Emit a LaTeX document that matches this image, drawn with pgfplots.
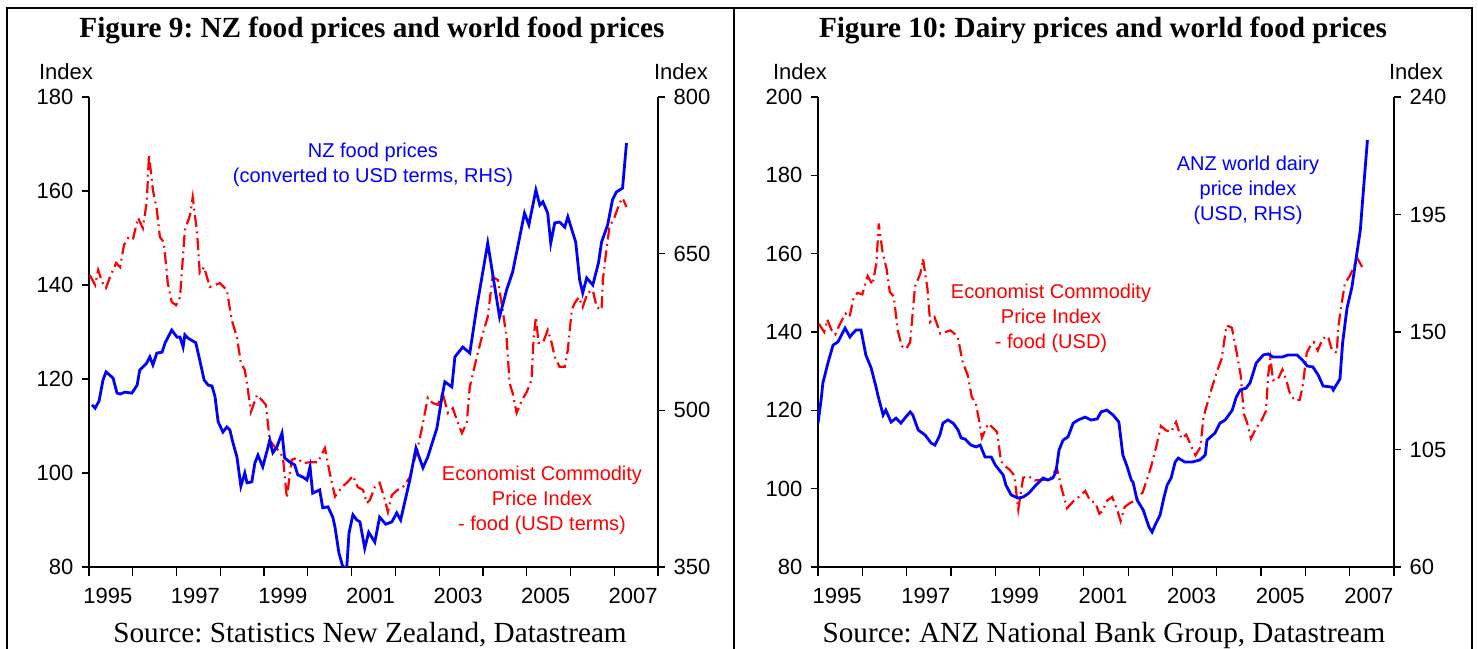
\documentclass[border=0pt]{standalone}
\usepackage{fontspec}
\setmainfont{Liberation Serif}
\newfontfamily\arial{Liberation Sans}
\usepackage{pgfplots}
\usepackage{pgfplotstable}
\pgfplotsset{compat=1.18}
\definecolor{nzblue}{RGB}{0,0,255}
\definecolor{ecred}{RGB}{255,0,0}
\frenchspacing

% Economist commodity price index - food (USD), LHS in both charts
\pgfplotstableread{
yr v
1995.02 142.1
1995.14 140.0
1995.21 143.2
1995.30 140.6
1995.39 139.4
1995.48 141.7
1995.62 144.7
1995.71 143.8
1995.80 148.5
1995.89 150.0
1996.00 149.6
1996.12 154.3
1996.23 152.1
1996.32 157.7
1996.37 167.7
1996.46 160.2
1996.55 156.0
1996.62 150.2
1996.71 149.1
1996.80 140.4
1996.89 136.4
1996.99 135.7
1997.08 137.4
1997.19 151.7
1997.31 154.9
1997.37 158.7
1997.47 151.1
1997.53 142.6
1997.63 143.8
1997.76 139.6
1997.88 140.0
1997.99 140.4
1998.15 138.9
1998.26 132.6
1998.38 128.9
1998.47 123.4
1998.56 121.9
1998.63 117.7
1998.70 113.0
1998.84 116.6
1998.95 115.5
1999.04 114.5
1999.13 107.0
1999.25 105.5
1999.32 104.9
1999.43 103.4
1999.52 94.7
1999.63 102.8
1999.75 103.2
1999.89 102.1
2000.05 102.3
2000.23 102.3
2000.39 105.3
2000.50 100.0
2000.62 95.0
2000.78 97.0
2000.91 98.1
2001.03 99.4
2001.14 97.0
2001.26 96.4
2001.35 93.6
2001.42 94.3
2001.53 97.0
2001.64 97.9
2001.76 94.3
2001.83 91.7
2001.92 95.3
2002.05 96.4
2002.17 97.0
2002.33 99.1
2002.51 105.3
2002.63 110.6
2002.74 116.0
2002.85 114.9
2002.97 114.5
2003.08 117.0
2003.20 112.8
2003.31 113.8
2003.42 110.9
2003.52 108.5
2003.63 110.6
2003.70 118.3
2003.86 124.7
2004.00 129.8
2004.11 133.2
2004.22 141.7
2004.34 141.1
2004.45 134.7
2004.54 128.9
2004.61 119.1
2004.68 117.0
2004.77 112.8
2004.89 115.5
2005.00 117.2
2005.11 119.8
2005.16 128.9
2005.21 133.2
2005.27 127.7
2005.37 127.7
2005.48 130.4
2005.57 127.7
2005.64 124.7
2005.75 122.6
2005.87 122.6
2005.94 126.2
2006.03 134.7
2006.10 136.2
2006.19 137.4
2006.28 135.3
2006.39 138.3
2006.51 138.9
2006.60 135.3
2006.71 134.7
2006.74 141.1
2006.83 148.1
2006.89 152.3
2007.01 154.5
2007.12 157.4
2007.19 158.5
2007.28 156.6
}\econ

% NZ food prices in USD terms, RHS of figure 9
\pgfplotstableread{
yr v
1995.07 505.3
1995.14 502.1
1995.23 508.9
1995.32 529.1
1995.39 536.8
1995.55 530.9
1995.64 516.5
1995.71 515.6
1995.82 517.4
1995.98 516.5
1996.10 524.2
1996.16 538.6
1996.32 545.3
1996.39 551.2
1996.46 543.5
1996.55 554.8
1996.67 555.7
1996.74 564.7
1996.89 576.8
1997.01 570.1
1997.08 570.1
1997.15 560.6
1997.19 572.3
1997.26 569.2
1997.44 564.7
1997.53 548.0
1997.63 529.1
1997.72 524.2
1997.81 523.3
1997.88 512.9
1997.95 489.1
1998.06 479.2
1998.15 484.1
1998.22 481.0
1998.29 468.8
1998.38 455.3
1998.47 427.4
1998.56 440.0
1998.61 430.6
1998.72 431.5
1998.79 449.5
1998.86 457.1
1998.97 445.9
1999.09 464.8
1999.13 471.5
1999.20 459.4
1999.29 464.8
1999.41 478.3
1999.47 454.4
1999.59 450.4
1999.70 447.7
1999.77 438.2
1999.89 436.0
1999.98 433.3
2000.05 445.9
2000.11 420.7
2000.27 423.8
2000.34 406.7
2000.46 407.6
2000.57 397.7
2000.62 388.3
2000.71 363.5
2000.80 350.0
2000.89 350.0
2000.94 382.4
2001.03 400.0
2001.12 395.0
2001.19 393.2
2001.30 368.0
2001.39 383.3
2001.53 373.9
2001.64 397.7
2001.78 391.0
2001.92 393.2
2002.03 401.8
2002.12 395.0
2002.33 433.3
2002.47 463.9
2002.63 445.0
2002.74 455.3
2002.95 483.2
2003.06 512.0
2003.13 527.3
2003.29 522.4
2003.36 551.2
2003.54 560.6
2003.70 554.8
2003.86 598.9
2004.11 660.1
2004.38 589.4
2004.54 615.1
2004.68 632.6
2004.95 688.9
2005.05 677.6
2005.21 710.9
2005.30 696.5
2005.37 699.7
2005.48 688.9
2005.55 660.1
2005.64 679.4
2005.75 680.3
2005.87 675.4
2005.94 685.3
2006.12 661.0
2006.21 625.0
2006.28 612.4
2006.37 626.8
2006.51 620.0
2006.64 641.2
2006.71 661.0
2006.85 677.6
2006.96 701.5
2007.05 709.1
2007.19 712.7
2007.28 755.9
}\nzfood

% ANZ world dairy price index (USD), RHS of figure 10
\pgfplotstableread{
yr v
1995.00 115.1
1995.07 124.0
1995.11 130.5
1995.23 138.5
1995.34 145.0
1995.45 146.2
1995.61 151.5
1995.72 148.1
1995.79 149.6
1995.86 150.8
1995.97 150.8
1996.08 141.2
1996.20 136.2
1996.31 128.9
1996.35 125.9
1996.47 118.2
1996.53 120.1
1996.65 115.5
1996.76 117.0
1996.87 115.1
1996.96 117.0
1997.08 119.4
1997.14 118.2
1997.26 112.5
1997.42 110.5
1997.55 107.5
1997.64 106.7
1997.75 110.5
1997.82 115.1
1997.93 116.3
1998.05 115.1
1998.16 112.5
1998.23 109.4
1998.32 109.0
1998.45 106.7
1998.57 106.0
1998.66 106.7
1998.77 102.1
1998.91 102.1
1999.00 99.1
1999.18 95.2
1999.24 91.4
1999.36 87.6
1999.51 86.4
1999.63 86.8
1999.76 88.3
1999.92 91.4
2000.08 94.1
2000.19 93.3
2000.30 94.1
2000.37 96.4
2000.44 104.8
2000.53 108.6
2000.64 109.8
2000.76 115.1
2000.87 116.3
2001.03 117.4
2001.16 116.3
2001.30 116.7
2001.39 119.4
2001.52 120.1
2001.66 118.2
2001.79 115.5
2001.88 102.9
2001.98 98.3
2002.07 93.3
2002.11 92.5
2002.20 85.7
2002.34 81.8
2002.47 75.3
2002.54 73.4
2002.61 76.1
2002.72 79.9
2002.81 86.8
2002.88 91.4
2002.97 94.1
2003.06 100.2
2003.13 101.7
2003.28 100.2
2003.44 100.2
2003.62 101.0
2003.74 102.9
2003.78 108.6
2003.96 111.3
2004.07 115.1
2004.19 116.3
2004.35 120.1
2004.44 125.1
2004.53 127.8
2004.66 128.5
2004.75 130.5
2004.89 138.1
2005.05 141.2
2005.16 141.6
2005.27 140.4
2005.47 140.4
2005.61 141.2
2005.81 141.2
2005.93 139.3
2006.04 137.0
2006.17 136.6
2006.29 133.5
2006.40 129.3
2006.60 128.9
2006.63 127.8
2006.78 132.0
2006.84 145.8
2006.94 159.2
2007.05 167.2
2007.14 177.6
2007.24 189.1
2007.31 204.4
2007.40 223.5
}\dairy

\pgfplotsset{
  panel/.style={
    scale only axis, anchor=south west, height=235pt,
    xmin=1995, xmax=2008,
    tick align=outside,
    axis line style={black, line width=0.6pt},
    tick style={black, line width=0.6pt},
    ticklabel style={font=\arial\fontsize{11}{13}\selectfont},
    /pgf/number format/assume math mode=true,
    /pgf/number format/1000 sep={},
    ytick style={/pgfplots/major tick length=3.4pt},
  },
  lhs/.style={panel,
    axis y line*=left, axis x line*=bottom,
    xtick={1995.5,1997.5,1999.5,2001.5,2003.5,2005.5,2007.5},
    xticklabels={1995,1997,1999,2001,2003,2005,2007},
    xtick style={/pgfplots/major tick length=0pt},
    minor xtick={1995,1996,...,2008},
    minor tick length=4.6pt,
    minor x tick style={black, line width=0.6pt},
    xticklabel style={yshift=-3pt, xshift=-1.5pt},
  },
  rhs/.style={panel,
    axis y line*=right, axis x line=none,
  },
  redline/.style={ecred, line width=1.1pt, dash pattern=on 6pt off 2.3pt on 0.9pt off 2.3pt},
  blueline/.style={nzblue, line width=1.4pt},
}

\begin{document}
\begin{tikzpicture}
\tikzset{lab/.style={font=\arial\fontsize{11}{13}\selectfont}}

% ---- Figure 9 ----
\begin{axis}[lhs, at={(44.5pt,40.5pt)}, width=284.5pt,
  ymin=80, ymax=180, ytick={80,100,...,180}]
\addplot[redline] table[x=yr, y=v] {\econ};
\end{axis}
\begin{axis}[rhs, at={(44.5pt,40.5pt)}, width=284.5pt,
  ymin=350, ymax=800, ytick={350,500,650,800}]
\addplot[blueline] table[x=yr, y=v] {\nzfood};
\end{axis}

% ---- Figure 10 ----
\begin{axis}[lhs, at={(409pt,40.5pt)}, width=288pt,
  ymin=80, ymax=200, ytick={80,100,...,200}]
\addplot[redline] table[x=yr, y=v] {\econ};
\end{axis}
\begin{axis}[rhs, at={(409pt,40.5pt)}, width=288pt,
  ymin=60, ymax=240, ytick={60,105,150,195,240}]
\addplot[blueline] table[x=yr, y=v] {\dairy};
\end{axis}

% titles and sources
\node[anchor=base, font=\bfseries\fontsize{14.6}{17}\selectfont] at (186pt,305pt)
  {Figure 9: NZ food prices and world food prices};
\node[anchor=base, font=\bfseries\fontsize{14.6}{17}\selectfont] at (551.5pt,305pt)
  {Figure 10: Dairy prices and world food prices};
\node[anchor=base, font=\fontsize{14.6}{17}\selectfont] at (185pt,2.5pt)
  {Source: Statistics New Zealand, Datastream};
\node[anchor=base, font=\fontsize{14.6}{17}\selectfont] at (552pt,2.5pt)
  {Source: ANZ National Bank Group, Datastream};

% axis unit labels
\node[lab, anchor=base] at (33pt,284pt) {Index};
\node[lab, anchor=base] at (340.5pt,284pt) {Index};
\node[lab, anchor=base] at (400pt,284pt) {Index};
\node[lab, anchor=base] at (708pt,284pt) {Index};

% series annotations
\node[align=center, text=nzblue, font=\arial\fontsize{10}{12.5}\selectfont] at (186.5pt,241.7pt)
  {NZ food prices\\(converted to USD terms, RHS)};
\node[align=center, text=ecred, font=\arial\fontsize{10}{12.5}\selectfont] at (271pt,74pt)
  {Economist Commodity\\Price Index\\- food (USD terms)};
\node[align=center, text=nzblue, font=\arial\fontsize{10}{12.5}\selectfont] at (624pt,229pt)
  {ANZ world dairy\\price index\\(USD, RHS)};
\node[align=center, text=ecred, font=\arial\fontsize{10}{12.5}\selectfont] at (525.5pt,165pt)
  {Economist Commodity\\Price Index\\- food (USD)};

% panel frames
\draw[line width=1.2pt] (3.5pt,-5pt) -- (3.5pt,320pt) -- (736pt,320pt) -- (736pt,-5pt);
\draw[line width=0.8pt] (367pt,320pt) -- (367pt,-5pt);

\pgfresetboundingbox
\useasboundingbox (0,0) rectangle (739pt,324pt);
\end{tikzpicture}
\end{document}
